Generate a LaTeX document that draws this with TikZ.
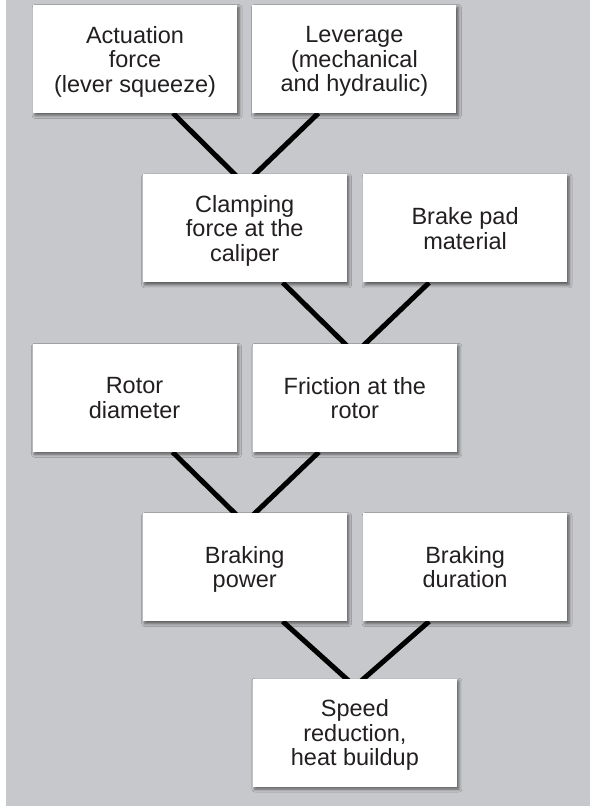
\documentclass[tikz,border=0pt]{standalone}
\usepackage{fontspec}
\setmainfont{Liberation Sans}
\usepackage{xcolor}
\usetikzlibrary{positioning,calc,backgrounds,shadows.blur}

\definecolor{panelgray}{RGB}{199,200,203}
\definecolor{textdark}{RGB}{35,31,32}

\begin{document}
\begin{tikzpicture}[
  x=1pt, y=1pt,
  box/.style={rectangle, fill=white, minimum width=204pt, minimum height=108pt,
    inner sep=0pt, align=center, text=textdark, text depth=0pt,
    font=\fontsize{23.5}{24.5}\selectfont,
    blur shadow={shadow xshift=2pt, shadow yshift=-2.5pt, shadow blur radius=3pt, shadow opacity=55}},
  link/.style={line width=5pt, black},
]
  \useasboundingbox (0,0) rectangle (590,-809);

  % Row 1
  \node[box] (act) at (135,-59) {Actuation\\force\\(lever squeeze)};
  \node[box, right=15pt of act] (lev) {Leverage\\(mechanical\\and hydraulic)};

  % Row 2
  \coordinate (m1) at ($(act.south)!0.5!(lev.south)$);
  \node[box, below=61pt of m1] (clamp) {Clamping\\force at the\\caliper};
  \node[box, right=16pt of clamp] (pad) {Brake pad\\material};

  % Row 3
  \coordinate (m2) at ($(clamp.south)!0.5!(pad.south)$);
  \node[box, below=61pt of m2] (fric) {Friction at the\\rotor};
  \node[box, left=16pt of fric] (rotor) {Rotor\\diameter};

  % Row 4
  \coordinate (m3) at ($(rotor.south)!0.5!(fric.south)$);
  \node[box, below=61pt of m3] (power) {Braking\\power};
  \node[box, right=16pt of power] (dur) {Braking\\duration};

  % Row 5
  \coordinate (m4) at ($(power.south)!0.5!(dur.south)$);
  \node[box, below=57pt of m4] (speed) {Speed\\reduction,\\heat buildup};

  % Panel and connectors behind the boxes
  \begin{scope}[on background layer]
    \fill[panelgray] (6,0) rectangle (590,-806);
    \draw[link] ([xshift=38pt]act.south) -- ([yshift=-10pt]clamp.north);
    \draw[link] ([xshift=-36pt]lev.south) -- ([yshift=-10pt]clamp.north);
    \draw[link] ([xshift=38pt]clamp.south) -- ([yshift=-10pt]fric.north);
    \draw[link] ([xshift=-36pt]pad.south) -- ([yshift=-10pt]fric.north);
    \draw[link] ([xshift=38pt]rotor.south) -- ([yshift=-10pt]power.north);
    \draw[link] ([xshift=-36pt]fric.south) -- ([yshift=-10pt]power.north);
    \draw[link] ([xshift=38pt]power.south) -- ([yshift=-8pt]speed.north);
    \draw[link] ([xshift=-36pt]dur.south) -- ([yshift=-8pt]speed.north);
  \end{scope}
\end{tikzpicture}
\end{document}
